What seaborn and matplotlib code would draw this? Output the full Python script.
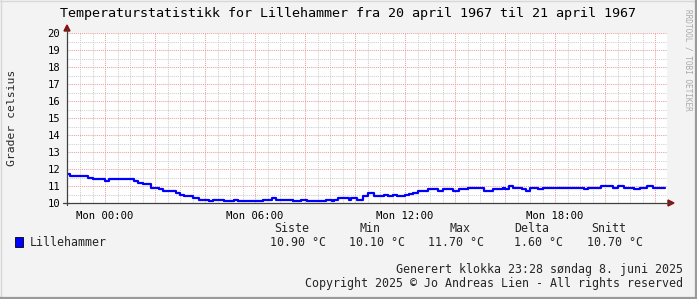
import matplotlib
matplotlib.use("Agg")
import matplotlib.pyplot as plt
import seaborn as sns
import pandas as pd
import numpy as np
from matplotlib.lines import Line2D
from matplotlib.patches import Polygon, Rectangle

# ---------------- data ----------------
# minutes relative to Mon 00:00 at which the temperature steps to a new value
change_minutes = [-91, -85, -40, -30, 0, 10, 70, 80, 90, 110, 130, 140, 170, 180, 190,
                  210, 225, 250, 260, 285, 310, 320, 380, 400, 410, 450, 470, 485, 530,
                  545, 550, 560, 585, 590, 605, 620, 630, 645, 670, 680, 690, 700, 720,
                  730, 740, 750, 775, 800, 810, 835, 850, 870, 910, 930, 955, 960, 970,
                  980, 1000, 1010, 1020, 1040, 1050, 1150, 1160, 1190, 1220, 1230, 1245,
                  1270, 1285, 1300, 1315]
temperatures = [11.7, 11.6, 11.5, 11.4, 11.3, 11.4, 11.3, 11.2, 11.1, 10.9, 10.8, 10.7,
                10.6, 10.5, 10.4, 10.3, 10.2, 10.1, 10.2, 10.1, 10.2, 10.1, 10.2, 10.3,
                10.2, 10.1, 10.2, 10.1, 10.2, 10.1, 10.2, 10.3, 10.2, 10.3, 10.2, 10.4,
                10.6, 10.4, 10.5, 10.4, 10.5, 10.4, 10.5, 10.55, 10.6, 10.7, 10.8, 10.7,
                10.8, 10.7, 10.8, 10.9, 10.7, 10.8, 10.9, 10.8, 11.0, 10.9, 10.8, 10.7,
                10.9, 10.8, 10.9, 10.8, 10.9, 11.0, 10.9, 11.0, 10.9, 10.8, 10.9, 11.0,
                10.9]
end_minute = 1345

x_tick_minutes = [0, 360, 720, 1080]
x_tick_labels = ["Mon 00:00", "Mon 06:00", "Mon 12:00", "Mon 18:00"]
y_ticks = list(range(10, 21))

series_name = "Lillehammer"
stat_headers = ["Siste", "Min", "Max", "Delta", "Snitt"]
stat_values = ["10.90 °C", "10.10 °C", "11.70 °C", "1.60 °C", "10.70 °C"]

title = "Temperaturstatistikk for Lillehammer fra 20 april 1967 til 21 april 1967"
ylabel = "Grader celsius"
footer1 = "Generert klokka 23:28 søndag 8. juni 2025"
footer2 = "Copyright 2025 © Jo Andreas Lien - All rights reserved"
watermark = "RRDTOOL / TOBI OETIKER"

# ---------------- figure ----------------
sns.set_theme(style="white")
plt.rcParams["font.family"] = ["DejaVu Sans Mono", "DejaVu Sans"]

W, H = 697, 299
fig = plt.figure(figsize=(W / 100, H / 100), dpi=100, facecolor="#f3f3f3")

def fx(x):
    return x / W

def fy(y):
    return 1 - y / H

# borders
fig.add_artist(Line2D([fx(0.5), fx(0.5)], [fy(0), fy(H)], color="#d8d8d8", lw=1.0))
fig.add_artist(Line2D([0, 1], [fy(0.5), fy(0.5)], color="#d8d8d8", lw=1.0))
fig.add_artist(Line2D([fx(W - 1), fx(W - 1)], [0, 1], color="#9a9a9a", lw=1.6))
fig.add_artist(Line2D([0, 1], [fy(H - 1), fy(H - 1)], color="#9a9a9a", lw=1.6))

ax_left, ax_right, ax_top, ax_bot = 67, 667, 33, 203
ax = fig.add_axes([fx(ax_left), fy(ax_bot), (ax_right - ax_left) / W, (ax_bot - ax_top) / H])
ax.set_facecolor("white")
for s in ax.spines.values():
    s.set_visible(False)

xmin = x_tick_minutes[0] - 91.2
xmax = xmin + 1440
ax.set_xlim(xmin, xmax)
ax.set_ylim(10, 20)

# grid
for m in np.arange(-60, xmax, 30):
    if m % 120 != 0:
        ax.axvline(m, color="#cfcfcf", lw=0.75, ls=(0, (1, 1)), zorder=0)
for m in np.arange(0, xmax, 120):
    ax.axvline(m, color="#eaa0a0", lw=0.75, ls=(0, (1, 1)), zorder=0.5)
for v in np.arange(10.5, 20, 1.0):
    ax.axhline(v, color="#cfcfcf", lw=0.75, ls=(0, (1, 1)), zorder=0)
for v in y_ticks[1:]:
    ax.axhline(v, color="#eaa0a0", lw=0.75, ls=(0, (1, 1)), zorder=0.5)

# data line
df = pd.DataFrame({"minute": change_minutes + [end_minute],
                   "temp": temperatures + [temperatures[-1]]})
sns.lineplot(data=df, x="minute", y="temp", ax=ax, color="#0000ff", lw=1.6,
             drawstyle="steps-post", estimator=None, zorder=3, legend=False)

ax.set_xlabel("")
ax.set_ylabel("")
ax.set_xticks(x_tick_minutes)
ax.set_xticklabels(x_tick_labels)
ax.set_yticks(y_ticks)
ax.set_yticklabels([str(v) for v in y_ticks])
ax.tick_params(axis="both", which="major", length=3, width=0.8, color="#404040",
               direction="out", labelsize=7.6, labelcolor="black", pad=2)
ax.tick_params(axis="x", pad=3)
ax.set_xticks(list(np.arange(0, xmax, 120)), minor=True)
ax.tick_params(axis="x", which="minor", length=2, width=0.8, color="#404040", direction="out")

# axes with arrows
fig.add_artist(Line2D([fx(ax_left), fx(ax_left)], [fy(ax_bot + 2), fy(28)], color="#404040", lw=0.9))
fig.add_artist(Line2D([fx(63), fx(671)], [fy(ax_bot), fy(ax_bot)], color="#404040", lw=0.9))
fig.add_artist(Polygon([[fx(64), fy(31)], [fx(70), fy(31)], [fx(67), fy(25)]], closed=True,
                       color="#8b1010", transform=fig.transFigure))
fig.add_artist(Polygon([[fx(668), fy(200)], [fx(668), fy(206)], [fx(674), fy(203)]], closed=True,
                       color="#8b1010", transform=fig.transFigure))

# texts
fig.text(fx(348.5), fy(14), title, ha="center", va="center", fontsize=9.6, color="black")
fig.text(fx(12), fy(118), ylabel, ha="center", va="center", rotation=90, fontsize=8.2)
fig.text(fx(688), fy(60), watermark, ha="center", va="center", rotation=270,
         fontsize=5.6, color="#aaaaaa")

# legend
fig.add_artist(Rectangle((fx(15), fy(247)), 8 / W, 10 / H, transform=fig.transFigure,
                         facecolor="#0000ff", edgecolor="black", lw=0.6))
fig.text(fx(30), fy(242), series_name, ha="left", va="center", fontsize=8.4)
header_centers = [291.5, 369.5, 460.5, 531.5, 608.5]
value_lefts = [269.5, 349, 428.5, 514.5, 587]
for hc, h in zip(header_centers, stat_headers):
    fig.text(fx(hc), fy(228), h, ha="center", va="center", fontsize=8.4)
for vl, v in zip(value_lefts, stat_values):
    fig.text(fx(vl), fy(242), v, ha="left", va="center", fontsize=8.4)

fig.text(fx(683), fy(270), footer1, ha="right", va="center", fontsize=8.4)
fig.text(fx(683), fy(284), footer2, ha="right", va="center", fontsize=8.4)

fig.savefig("out.png", dpi=100, facecolor=fig.get_facecolor())
